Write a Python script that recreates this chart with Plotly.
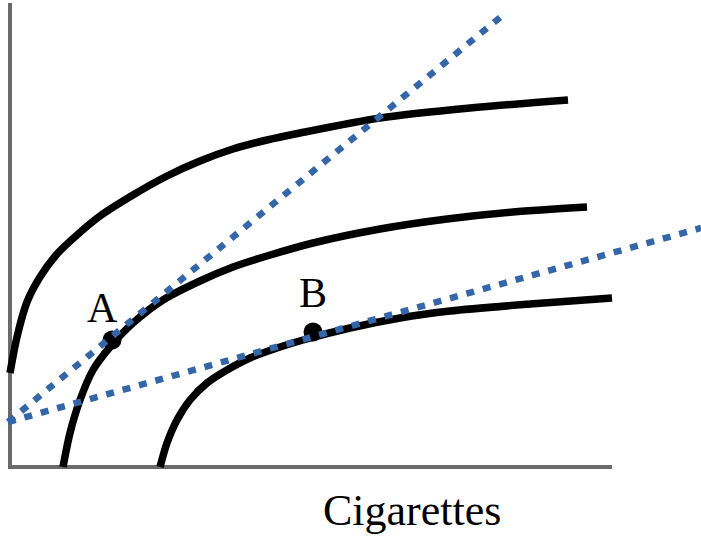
import plotly.graph_objects as go

# Indifference curves (x = cigarettes, y = other good)
ic_top_x = [0, 7, 17, 30, 47, 67, 90, 123, 157, 190, 223, 257, 290, 370, 460, 558]
ic_top_y = [94, 130, 165, 190, 213, 232, 251, 272, 291, 306, 318, 327, 334, 349, 359, 367]

ic_mid_x = [53, 60, 70, 83, 100, 123, 153, 190, 223, 257, 303, 370, 437, 503, 577]
ic_mid_y = [0, 34, 67, 97, 120, 144, 167, 186, 200, 211, 224, 238, 248, 255, 260]

ic_low_x = [150, 157, 167, 180, 197, 217, 240, 267, 293, 340, 390, 440, 520, 602]
ic_low_y = [0, 24, 47, 67, 84, 97, 109, 119, 127, 139, 149, 156, 163, 169]

# Budget lines
budget_steep_x = [-2, 493]
budget_steep_y = [45, 452]
budget_flat_x = [-2, 691]
budget_flat_y = [45, 239]

# Points
point_labels = ["A", "B"]
point_x = [102, 303]
point_y = [127, 135]
label_x = [92, 303]
label_y = [159, 174]

x_title = "Cigarettes"

BLUE = "#3466A8"
FONT = "Liberation Serif"

fig = go.Figure()

for xs, ys in [(ic_top_x, ic_top_y), (ic_mid_x, ic_mid_y), (ic_low_x, ic_low_y)]:
    fig.add_trace(go.Scatter(x=xs, y=ys, mode="lines",
                             line=dict(color="black", width=7.5, shape="spline", smoothing=0.8),
                             hoverinfo="skip", showlegend=False))

fig.add_trace(go.Scatter(x=point_x, y=point_y, mode="markers",
                         marker=dict(color="black", size=19),
                         hoverinfo="skip", showlegend=False))

for xs, ys in [(budget_steep_x, budget_steep_y), (budget_flat_x, budget_flat_y)]:
    fig.add_trace(go.Scatter(x=xs, y=ys, mode="lines",
                             line=dict(color=BLUE, width=6.5, dash="8px,9px"),
                             hoverinfo="skip", showlegend=False))

for lbl, lx, ly in zip(point_labels, label_x, label_y):
    fig.add_annotation(x=lx, y=ly, text=lbl, showarrow=False,
                       font=dict(family=FONT, size=42, color="black"),
                       xanchor="center", yanchor="middle")

fig.add_annotation(x=402, y=-43, text=x_title, showarrow=False,
                   font=dict(family=FONT, size=44, color="black"),
                   xanchor="center", yanchor="middle")

# axes lines
fig.add_shape(type="line", x0=0, x1=0, y0=-1, y1=464, layer="below",
              line=dict(color="#6a6a6a", width=4))
fig.add_shape(type="line", x0=-2, x1=602, y0=0, y1=0, layer="below",
              line=dict(color="#6a6a6a", width=4))

fig.update_layout(
    width=701, height=540,
    margin=dict(l=0, r=0, t=0, b=0),
    paper_bgcolor="white", plot_bgcolor="white",
    xaxis=dict(range=[-10, 691], visible=False, fixedrange=True),
    yaxis=dict(range=[-73, 467], visible=False, fixedrange=True),
)

fig.write_html("out.html", config={"displayModeBar": False},
               post_script="document.body.style.margin='0px';")
